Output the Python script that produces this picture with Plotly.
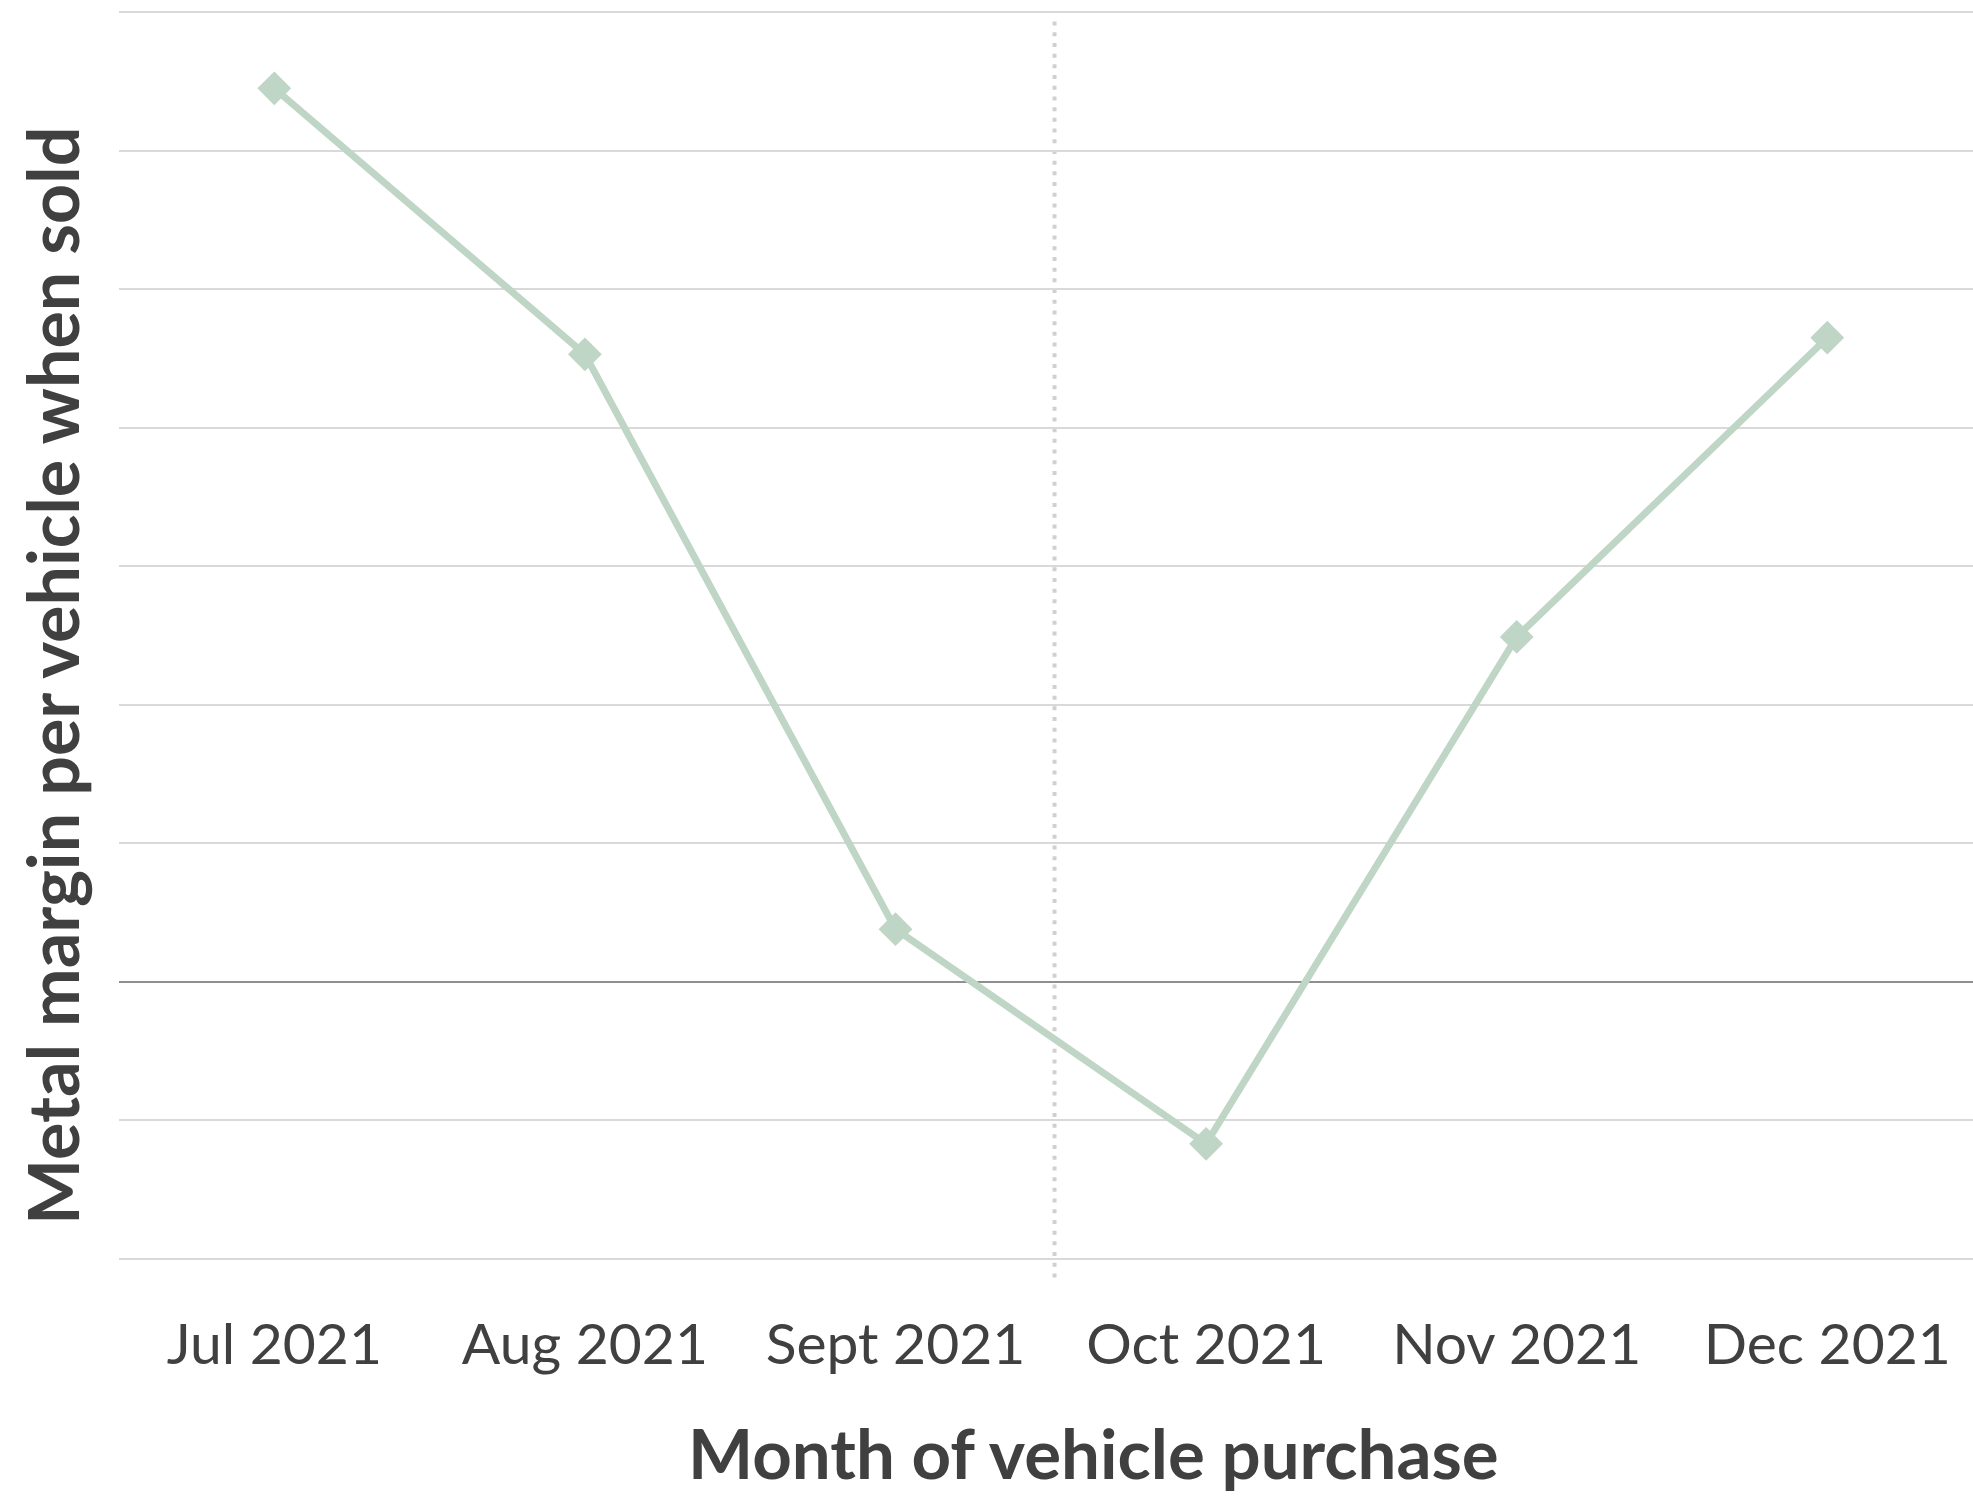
import plotly.graph_objects as go

months = ["Jul 2021", "Aug 2021", "Sept 2021", "Oct 2021", "Nov 2021", "Dec 2021"]
margin_values = [6.45, 4.53, 0.38, -1.17, 2.49, 4.65]
y_grid_values = [-2, -1, 0, 1, 2, 3, 4, 5, 6, 7]

W, H = 1973, 1498
TEXT = "#404040"
PAD = 0.03
PX_PER_UNIT = 138.4
TOP, BOTTOM = 12.6, 1258.4
t_m = TOP - PAD * PX_PER_UNIT
b_m = H - (BOTTOM + PAD * PX_PER_UNIT)
plot_h = H - t_m - b_m


def py(pixel_y):
    """paper y from a page pixel row"""
    return (H - b_m - pixel_y) / plot_h


fig = go.Figure()
fig.add_trace(go.Scatter(
    x=list(range(len(months))), y=margin_values, mode="lines+markers",
    line=dict(color="#bfd5c6", width=7),
    marker=dict(symbol="diamond", size=26, color="#bfd5c6"),
    hoverinfo="skip", showlegend=False,
))

# vertical dotted separator between Sept and Oct
fig.add_shape(type="line", xref="x", yref="paper", x0=2.512, x1=2.512, y0=py(1277), y1=py(16),
              line=dict(color="#d0d0d0", width=4, dash="4px,6.7px"), layer="below")

fig.add_annotation(text="<b>Month of vehicle purchase</b>", xref="paper", yref="paper",
                   x=(1093 - 119) / (1973 - 119), y=py(1495),
                   xanchor="center", yanchor="bottom", showarrow=False,
                   font=dict(family="Lato", size=69, color=TEXT))
fig.add_annotation(text="<b>Metal margin per vehicle when sold</b>", xref="paper", yref="paper",
                   x=-(119 - 52) / (1973 - 119), y=py(676),
                   xanchor="center", yanchor="middle", showarrow=False, textangle=-90,
                   font=dict(family="Lato", size=70, color=TEXT))

fig.update_layout(
    width=W, height=H,
    margin=dict(l=119, r=0, t=t_m, b=b_m),
    paper_bgcolor="white", plot_bgcolor="white",
    xaxis=dict(tickmode="array", tickvals=list(range(len(months))), ticktext=months,
               range=[-0.5, -0.5 + (1973 - 119) / 310.6], showgrid=False, zeroline=False,
               showline=False, ticks="", ticklabelstandoff=int(round(47 - PAD * PX_PER_UNIT)),
               tickfont=dict(family="Lato", size=57, color=TEXT)),
    yaxis=dict(range=[-2 - PAD, 7 + PAD], tickmode="array", tickvals=y_grid_values,
               showticklabels=False,
               showgrid=True, gridcolor="#d9d9d9", gridwidth=2,
               zeroline=True, zerolinecolor="#8f8f8f", zerolinewidth=2, showline=False, ticks=""),
)

fig.write_html("out.html")
